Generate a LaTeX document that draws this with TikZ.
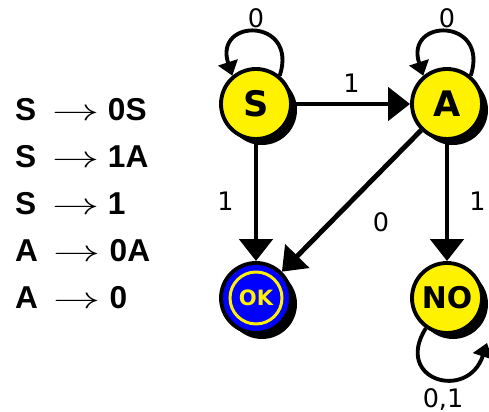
\documentclass[tikz,border=0pt]{standalone}
\usepackage{amsmath}
\usepackage{fontspec}
\setmainfont{DejaVu Sans}
\newfontfamily\gramfont{Liberation Sans}
\usetikzlibrary{positioning,arrows,arrows.meta,shadows}

\newcommand{\prodarrow}{\hspace{9pt}\scalebox{1.55}[1]{$\rightarrow$}\hspace{5pt}}

\begin{document}
\begin{tikzpicture}[x=1cm, y=1cm]
  \useasboundingbox (0,0) rectangle (9.78,8.24);

  % ---- Styles -------------------------------------------------
  \tikzstyle{state}=[circle, draw=black, line width=2.2pt, fill=yellow,
                     minimum size=1.40cm, inner sep=0pt,
                     drop shadow={shadow xshift=0.12cm, shadow yshift=-0.12cm,
                                  fill=black, opacity=1},
                     font=\fontsize{20}{20}\selectfont\bfseries]
  \tikzstyle{trans}=[line width=2.8pt, -{Triangle[length=0.44cm, width=0.66cm]}]
  \tikzstyle{selfloop}=[line width=2.2pt, -{Triangle[length=0.28cm, width=0.40cm]}]
  \tikzstyle{lbl}=[font=\fontsize{14.5}{14.5}\selectfont]
  \tikzstyle{rule}=[anchor=west, font=\fontsize{18}{18}\selectfont\gramfont\bfseries]

  % ---- Grammar rules ------------------------------------------
  \node[rule] (r1) at (0.18, 6.04) {S\prodarrow 0S};
  \node[rule] (r2) at (0.18, 5.10) {S\prodarrow 1A};
  \node[rule] (r3) at (0.18, 4.16) {S\prodarrow 1};
  \node[rule] (r4) at (0.18, 3.22) {A\prodarrow 0A};
  \node[rule] (r5) at (0.18, 2.28) {A\prodarrow 0};

  % ---- States -------------------------------------------------
  \node[state] (s)  at (5.12, 6.16) {S};
  \node[state] (a)  at (8.94, 6.16) {A};
  \node[state, fill=blue] (ok) at (5.12, 2.28) {};
  \node[state, font=\fontsize{17}{17}\selectfont\bfseries] (no) at (8.94, 2.28) {NO};
  \draw[yellow, line width=1.7pt] (ok) circle (0.52cm);
  \node[text=yellow, font=\fontsize{12}{12}\selectfont\bfseries] (oktext) at (ok) {OK};

  % ---- Transitions --------------------------------------------
  \draw[trans] (s) -- node[lbl, above=2pt] {1} (a);
  \draw[trans] (s) -- node[lbl, left=0.28cm] {1} (ok);
  \draw[trans] (a) -- node[lbl, right=0.28cm] {1} (no);
  \draw[trans] (a) -- node[lbl, xshift=0.59cm, yshift=-0.42cm] {0} (ok);

  % ---- Self loops ---------------------------------------------
  \coordinate (noin) at ([shift={(0.80,-0.90)}]no.center);
  \draw[selfloop] (s.50) to[out=72, in=108, looseness=3.3] node[lbl, above=-2pt] {0} (s.130);
  \draw[selfloop] (a.50) to[out=72, in=108, looseness=3.3] node[lbl, above=-2pt] {0} (a.130);
  \draw[selfloop] (no.235) to[out=238, in=252, looseness=2.5]
    node[lbl, below=2pt, xshift=0.12cm] {0,1} (noin);

\end{tikzpicture}
\end{document}
